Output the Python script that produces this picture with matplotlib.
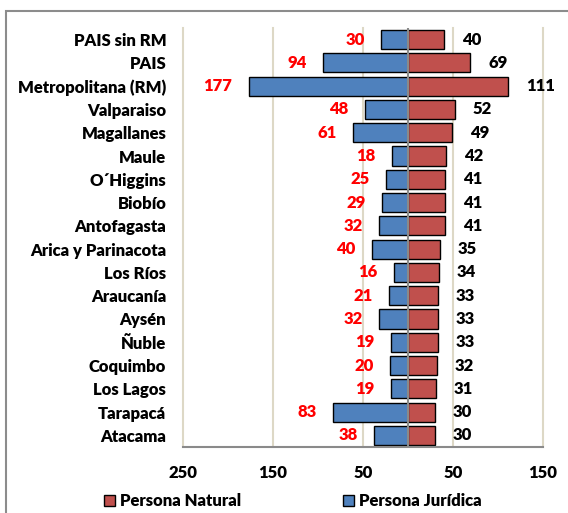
import matplotlib.pyplot as plt
from matplotlib.patches import Patch, Rectangle

plt.rcParams['font.family'] = ['Lato', 'DejaVu Sans']
plt.rcParams['font.weight'] = 'heavy'

regiones = ["PAIS sin RM", "PAIS", "Metropolitana (RM)", "Valparaiso", "Magallanes",
            "Maule", "O´Higgins", "Biobío", "Antofagasta", "Arica y Parinacota",
            "Los Ríos", "Araucanía", "Aysén", "Ñuble", "Coquimbo", "Los Lagos",
            "Tarapacá", "Atacama"]
juridica = [30, 94, 177, 48, 61, 18, 25, 29, 32, 40, 16, 21, 32, 19, 20, 19, 83, 38]
natural = [40, 69, 111, 52, 49, 42, 41, 41, 41, 35, 34, 33, 33, 33, 32, 31, 30, 30]
ticks = [-250, -150, -50, 50, 150]

azul = "#4f81bd"
rojo = "#c0504d"
fs = 12

fig = plt.figure(figsize=(5.68, 5.13), dpi=100)
ax = fig.add_axes([183 / 568, 1 - 447 / 513, 360 / 568, 419 / 513])

y = list(range(len(regiones)))
ax.barh(y, [-v for v in juridica], height=0.82, color=azul, edgecolor="black", lw=1, zorder=2)
ax.barh(y, natural, height=0.82, color=rojo, edgecolor="black", lw=1, zorder=2)
ax.axvline(0, color="#8a8a8a", lw=1.5, zorder=3)
for t in ticks:
    ax.axvline(t, color="#ddd8c6", lw=1.5, zorder=1, clip_on=False)

for i in y:
    ax.text(-juridica[i] - 18, i, str(juridica[i]), color="#ff0000", fontsize=fs,
            fontweight="heavy", ha="right", va="center")
    ax.text(natural[i] + 20, i, str(natural[i]), color="black", fontsize=fs,
            fontweight="heavy", ha="left", va="center")

ax.set_xlim(-250, 150)
ax.set_ylim(len(regiones) - 0.5, -0.5)
ax.set_yticks(y)
ax.set_yticklabels(regiones, fontsize=fs, fontweight="heavy")
ax.set_xticks(ticks)
ax.set_xticklabels([str(abs(t)) for t in ticks], fontsize=fs, fontweight="heavy")
ax.tick_params(length=0)
ax.tick_params(axis="y", pad=12)
ax.tick_params(axis="x", pad=13)
for s in ["left", "right", "top"]:
    ax.spines[s].set_visible(False)
ax.spines["bottom"].set_color("#8a8a8a")
ax.spines["bottom"].set_linewidth(1.5)

# marco exterior del gráfico
fig.patches.append(Rectangle((6 / 568, -0.2), 1.2, 1 - 11 / 513 + 0.2, transform=fig.transFigure,
                             fill=False, edgecolor="#8c8c8c", lw=1.5))

handles = [Patch(facecolor=rojo, edgecolor="black", label="Persona Natural"),
           Patch(facecolor=azul, edgecolor="black", label="Persona Jurídica")]
fig.legend(handles=handles, loc="center", bbox_to_anchor=(293 / 568, 1 - 501 / 513), ncol=2,
           frameon=False, fontsize=fs, handlelength=0.65, handleheight=0.65,
           handletextpad=0.3, columnspacing=6.1)

fig.savefig("out.png", dpi=100)
